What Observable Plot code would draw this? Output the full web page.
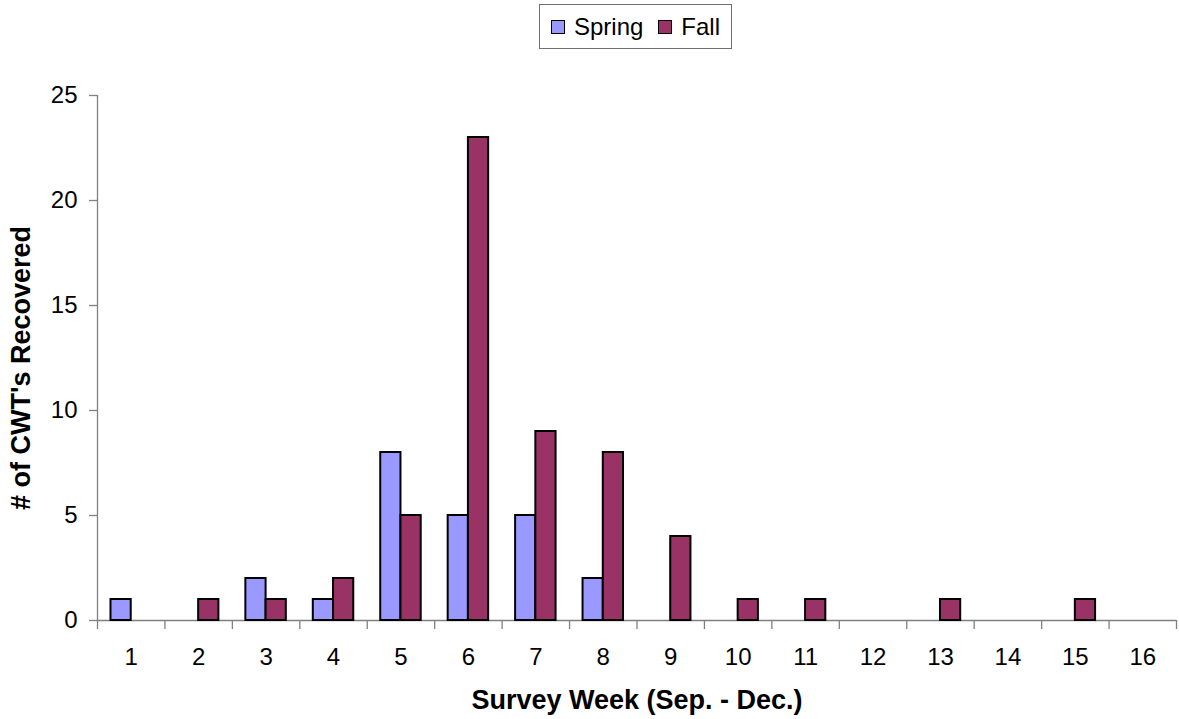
<!DOCTYPE html>
<html>
<head>
<meta charset="utf-8">
<script src="https://cdn.jsdelivr.net/npm/d3@7"></script>
<script src="https://cdn.jsdelivr.net/npm/@observablehq/plot@0.6"></script>
<style>
  body { margin: 0; background: #fff; font-family: "Liberation Sans", Arial, sans-serif; }
  #wrap { position: relative; width: 1179px; height: 719px; }
  #legend { position: absolute; left: 539px; top: 4px; width: 193px; height: 45px; border: 1.5px solid #707070;
            display: flex; align-items: center; justify-content: center; font-size: 24px; color: #000; box-sizing: border-box; }
  .sw { display: inline-block; width: 12px; height: 12px; border: 1.5px solid #000; margin-right: 9px; }
  #legend span.item { display: inline-flex; align-items: center; }
  #legend span.item + span.item { margin-left: 15px; }
  #chart { position: absolute; left: 0; top: 60px; }
</style>
</head>
<body>
<div id="wrap">
  <div id="legend"></div>
  <div id="chart"></div>
</div>
<script>
const weeks = [1, 2, 3, 4, 5, 6, 7, 8, 9, 10, 11, 12, 13, 14, 15, 16];
const spring = [1, 0, 2, 1, 8, 5, 5, 2, 0, 0, 0, 0, 0, 0, 0, 0];
const fall = [0, 1, 1, 2, 5, 23, 9, 8, 4, 1, 1, 0, 1, 0, 1, 0];
const seriesNames = ["Spring", "Fall"];
const seriesColors = ["#9999FF", "#993366"];
const yTicks = [0, 5, 10, 15, 20, 25];
const xTitle = "Survey Week (Sep. - Dec.)";
const yTitle = "# of CWT's Recovered";

const springData = weeks.map((w, i) => ({week: w, value: spring[i]})).filter(d => d.value > 0);
const fallData = weeks.map((w, i) => ({week: w, value: fall[i]})).filter(d => d.value > 0);
const bounds = [0.5, ...weeks.map(w => w + 0.5)];
const barW = 0.3;

// legend
const legend = document.getElementById("legend");
seriesNames.forEach((n, i) => {
  const s = document.createElement("span");
  s.className = "item";
  s.innerHTML = `<span class="sw" style="background:${seriesColors[i]}"></span>${n}`;
  legend.appendChild(s);
});

const gray = "#808080";
const chart = Plot.plot({
  width: 1179,
  height: 659,
  marginLeft: 97,
  marginRight: 3,
  marginTop: 35,
  marginBottom: 99,
  style: {fontFamily: "'Liberation Sans', Arial, sans-serif", fontSize: "24px", color: "#000", background: "#fff", overflow: "visible"},
  x: {domain: [0.5, 16.5]},
  y: {domain: [0, 25]},
  marks: [
    Plot.ruleX([0.5], {stroke: gray, strokeWidth: 1.3}),
    Plot.ruleY([0], {stroke: gray, strokeWidth: 1.3}),
    Plot.rectY(springData, {x1: d => d.week - barW, x2: d => d.week, y: "value", fill: seriesColors[0], stroke: "#000", strokeWidth: 2}),
    Plot.rectY(fallData, {x1: d => d.week, x2: d => d.week + barW, y: "value", fill: seriesColors[1], stroke: "#000", strokeWidth: 2}),
    Plot.axisY({ticks: yTicks, tickSize: 8, tickPadding: 12, stroke: gray, strokeWidth: 1.3, label: null, fontSize: 24, fill: "#000"}),
    Plot.axisX({ticks: bounds, tickSize: 9, tickFormat: () => "", stroke: gray, strokeWidth: 1.3, label: null}),
    Plot.axisX({ticks: weeks, tickSize: 0, tickPadding: 27, label: null, fontSize: 24, fill: "#000", tickFormat: d => String(d)}),
    Plot.text([xTitle], {frameAnchor: "bottom", lineAnchor: "middle", dy: 80, fontWeight: "bold", fontSize: 27, fill: "#000"}),
    Plot.text([yTitle], {frameAnchor: "left", textAnchor: "middle", lineAnchor: "middle", dx: -76, dy: 10, rotate: -90, fontWeight: "bold", fontSize: 27, fill: "#000"})
  ]
});
document.getElementById("chart").appendChild(chart);
</script>
</body>
</html>
